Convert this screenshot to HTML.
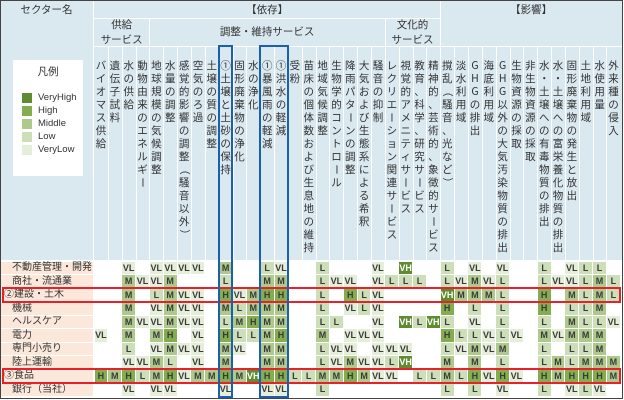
<!DOCTYPE html>
<html><head><meta charset="utf-8">
<style>
html,body{margin:0;padding:0;background:#fff;}
body{width:624px;height:400px;position:relative;overflow:hidden;font-family:"Liberation Sans","Noto Sans CJK JP",sans-serif;color:#333;}
.abs{position:absolute;box-sizing:border-box;}
.hdr{background:#dae8f0;}
.vc{position:absolute;font-family:"Noto Sans CJK JP","Liberation Sans",sans-serif;font-size:10.5px;line-height:13px;width:13px;height:13px;text-align:center;color:#333;}
.rot{transform:rotate(90deg);}
.ht{position:absolute;font-size:10.5px;text-align:center;line-height:15px;color:#333;}
.cell{position:absolute;font-size:9px;font-weight:bold;text-align:center;color:#3a3a3a;}
.rl{position:absolute;font-size:10px;color:#333;white-space:nowrap;}
</style></head><body>
<div id="root"></div>
<script>
// ---- data ----
const sectors = ["不動産管理・開発","商社・流通業","②建設・土木","機械","ヘルスケア","電力","専門小売り","陸上運輸","③食品","銀行（当社）"];
const columnLabels = ["バイオマス供給","遺伝子試料","水の供給","動物由来のエネルギー","地球規模の気候調整","水量の調整","感覚的影響の調整（騒音以外）","空気のろ過","土壌の質の調整","①土壌と土砂の保持","固形廃棄物の浄化","水の浄化","①暴風雨の軽減","①洪水の軽減","受粉","苗床の個体数および生息地の維持","地域気候調整","生物学的コントロール","降雨パターンの調整","大気および生態系による希釈","騒音の抑制","レクリエーション関連サービス","視覚的アメニティサービス","教育、科学、研究サービス","精神的、芸術的、象徴的サービス","撹乱（騒音、光など）","淡水利用域","GHGの排出","海底利用域","GHG以外の大気汚染物質の排出","生物資源の採取","非生物資源の採取","水・土壌への有毒物質の排出","水・土壌への富栄養化物質の排出","固形廃棄物の発生と放出","土地利用域","水使用量","外来種の侵入"];
const row0 = ". . VL . VL VL VL VL . M . . L VL . . L . . . VL . VH . . L . VL . VL . . L . VL L L .".split(" ");
const row1 = ". . M VL VL M . . . L . . M M . . L VL VL . VL L L L . L VL M VL L . . L VL VL L M L".split(" ");
const row2 = ". . M . L M VL VL . H VL M H H . . L . H L VL . . . . VH M M M L . . H . M L M L".split(" ");
const row3 = ". . M . VL M VL VL . M L M M M . . L . VL L VL . . . . H . L . L . . H . L L M .".split(" ");
const row4 = ". . M VL VL M VL VL . L M H M M . . L L . . VL . VH L VH L . VL . L . . L . M L L VL".split(" ");
const row5 = "VL . M . M H . VL . H L L M H . . M . VL VL VL . . . . H L L VL L VL . M VL M M M .".split(" ");
const row6 = ". . L . VL M VL VL . M VL . M M . . L VL VL . VL VL VL . . L VL M VL M . . L . L L M .".split(" ");
const row7 = ". . VL VL M L . VL . M . . M M . . L VL M VL VL L VH . . M . M . L . . L M L M M M".split(" ");
const row8 = "H M H L M H VL M M H M VH H H L L M M H M VL VL . L L M L H VL H VL . H M H H H M".split(" ");
const row9 = ". . VL . VL VL . . . VL . . VL VL . . L . . . . . . . . L . L . VL . . L . VL L VL .".split(" ");
const rows = [row0,row1,row2,row3,row4,row5,row6,row7,row8,row9];
const levelNames = ["VeryHigh","High","Middle","Low","VeryLow"];
const levelCodes = ["VH","H","M","L","VL"];
const highlightRows = [2,8];
const highlightCols = [[9,9],[12,13]];

// ---- layout ----
const X0 = 94, CW = 13.85, Y0 = 261, RH = 13.55;
const colors = {VH:"#5f8c30",H:"#84ad50",M:"#adc98c",L:"#cddfb8",VL:"#e5eed9"};
const colX = c => X0 + c*CW;
const rowY = r => Y0 + r*RH;
const root = document.getElementById('root');
function mk(cls, style, text){
  const d=document.createElement('div'); d.className=cls; d.style.cssText=style;
  if(text!==undefined) d.textContent=text; root.appendChild(d); return d;
}
let e;
e = mk('abs hdr','left:0;top:0;width:622px;height:260px;');


sectors.forEach((s,i)=>{
  let bg = mk('abs','left:1px;top:'+(rowY(i)+0.5)+'px;width:92px;height:'+(RH-1)+'px;background:#fbe8da;');
  
  
  let t = mk('rl','left:'+(s.startsWith('②')||s.startsWith('③')?4:12)+'px;top:'+(rowY(i)+1)+'px;line-height:'+(RH-1)+'px;',s);
  
  
});
function line(x,y,w,h,col,name){let l=mk('abs','left:'+x+'px;top:'+y+'px;width:'+w+'px;height:'+h+'px;background:'+col+';');
  
  }
line(93,0,1,260,'#fff','header-divider');
line(94,18,346,1,'#fff','header-divider');
line(94,46,528,1,'#fff','header-divider');
line(colX(4),18,1,29,'#fff','header-divider');
line(colX(21),18,1,29,'#fff','header-divider');
line(colX(25),0,1,47,'#fff','header-divider');
for(let c=1;c<38;c++) line(colX(c),47,1,213,'#fff','column-divider');
function ht(txt,x,y,w,name){let t=mk('ht','left:'+x+'px;top:'+y+'px;width:'+w+'px;');t.innerHTML=txt;
  
  }
ht('セクター名',0,3,93,'sector-header');
ht('【依存】',94,3,colX(25)-94,'dependency-header');
ht('【影響】',colX(25),3,622-colX(25),'impact-header');
ht('供給<br>サービス',94,18,colX(4)-94,'provisioning-header');
ht('調整・維持サービス',colX(4),25,colX(21)-colX(4),'regulating-header');
ht('文化的<br>サービス',colX(21),18,colX(25)-colX(21),'cultural-header');
const rotChars = "ー（）";
columnLabels.forEach((lab,c)=>{
  Array.from(lab).forEach((ch,i)=>{
    let t=mk('vc'+(rotChars.includes(ch)?' rot':''),'left:'+(colX(c)+0.5)+'px;top:'+(59+i*13)+'px;',ch);
    
    
  });
});
e=mk('abs','left:13px;top:60px;width:70px;height:116px;background:#fff;');


e=mk('ht','left:13px;top:65px;width:70px;','凡例');


levelNames.forEach((n,i)=>{
  let s=mk('abs','left:22px;top:'+(93+i*13)+'px;width:10px;height:10px;background:'+colors[levelCodes[i]]+';');
  
  
  let t=mk('rl','left:38px;top:'+(91+i*13)+'px;line-height:13px;font-size:9.5px;',n);
  
  
});
rows.forEach((row,r)=>{
  row.forEach((v,c)=>{
    if(v==='.'||!v) return;
    let d=mk('cell','left:'+(colX(c)+0.5)+'px;top:'+(rowY(r)+0.5)+'px;width:'+(CW-1)+'px;height:'+(RH-1)+'px;line-height:'+(RH-1)+'px;background:'+colors[v]+';'+(v==='VH'?'color:#fff;':''),v);
    
    
  });
});
highlightRows.forEach(r=>{
  let b=mk('abs','left:2px;top:'+(rowY(r)-1)+'px;width:619px;height:'+(RH+2)+'px;border:2px solid #e8202a;');
  
  
});
highlightCols.forEach(([a,b2])=>{
  let b=mk('abs','left:'+(colX(a)-1)+'px;top:45px;width:'+(colX(b2+1)-colX(a)+2)+'px;height:353px;border:2px solid #1b5fb0;');
  
  
});
e=mk('abs','left:0;top:0;width:623px;height:399px;border:1.5px solid #444;');


</script>
</body></html>
